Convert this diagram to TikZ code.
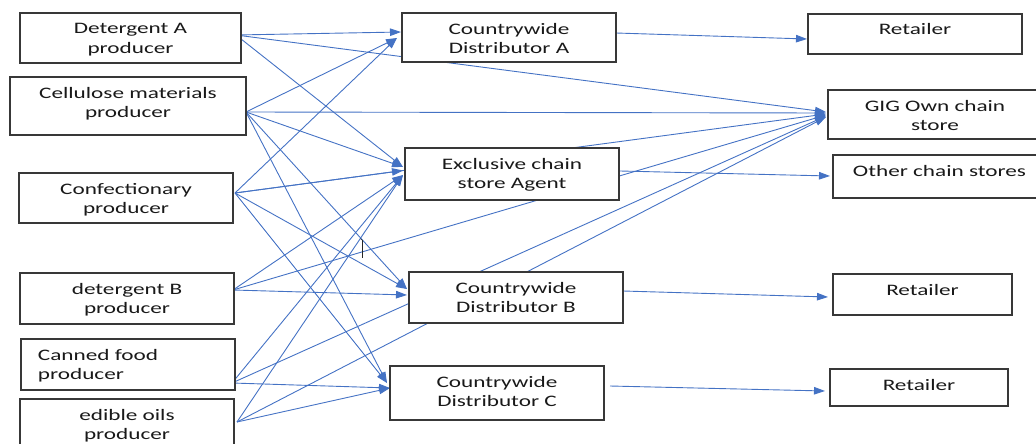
\documentclass[tikz,border=0pt]{standalone}
\usepackage{fontspec}
\setmainfont{Carlito}[FakeStretch=1.45]
\usetikzlibrary{arrows.meta}
\definecolor{lnblue}{HTML}{4472C4}
\pgfdeclarelayer{bg}
\pgfsetlayers{bg,main}
\tikzset{
  box/.style={draw=black!78, line width=1.1pt, fill=white, inner sep=0pt, outer sep=0pt,
    anchor=north west, font=\fontsize{16}{19.5}\selectfont, text=black!90},
  conn/.style={draw=lnblue, line width=0.9pt, -{Triangle[length=11pt,width=7.5pt]}}
}
\newcommand{\bxc}[3]{\parbox[b][#2pt][t]{#1pt}{\centering\rule{0pt}{21pt}#3}}
\newcommand{\bxl}[3]{\parbox[b][#2pt][t]{#1pt}{\raggedright\rule{0pt}{21pt}\hspace*{17pt}#3}}
\begin{document}
\begin{tikzpicture}[x=1pt,y=-1pt]
\useasboundingbox (0,0) rectangle (1036,444);
\clip (0,0) rectangle (1036,444);
% producers
\node[box] (detA) at (20,13)  {\bxc{221}{50}{Detergent A\\producer}};
\node[box] (cell) at (10,77)  {\bxc{236}{58}{Cellulose materials\\producer}};
\node[box] (conf) at (19,173) {\bxc{214}{50}{Confectionary\\producer}};
\node[box] (detB) at (20,273) {\bxc{214}{51}{detergent B\\producer}};
\node[box] (can)  at (21,339) {\bxl{214}{51}{Canned food\\\hspace*{17pt}producer}};
\node[box] (edi)  at (20,399) {\bxc{214}{52}{edible oils\\producer}};
% middle
\node[box] (distA) at (402,13)  {\bxc{214}{49}{Countrywide\\Distributor A}};
\node[box] (agent) at (405,148) {\bxc{214}{52}{Exclusive chain\\store Agent}};
\node[box] (distB) at (409,272) {\bxc{214}{51}{Countrywide\\Distributor B}};
\node[box] (distC) at (390,366) {\bxc{214}{54}{Countrywide\\Distributor C}};
% right
\node[box] (ret1)  at (808,14)  {\bxc{214}{40}{Retailer}};
\node[box] (gig)   at (828,90)  {\bxc{214}{49}{GIG Own chain\\store}};
\node[box] (other) at (833,155) {\bxc{213}{43}{Other chain stores}};
\node[box] (ret2)  at (833,274) {\bxc{179}{41}{Retailer}};
\node[box] (ret3)  at (830,369) {\bxc{178}{37}{Retailer}};
% text cursor mark
\draw[black!85, line width=0.8pt] (362,240) -- (362,258);
\draw[black!85, line width=0.6pt] (360.5,238.5) -- (362,240);
\begin{pgfonlayer}{bg}
% Detergent A
\draw[conn] ([shift={(-5,-3)}]detA.east) -- ([shift={(-1,-5.5)}]distA.west);
\draw[conn] ([shift={(-5,-3)}]detA.east) -- ([shift={(-2,-2.5)}]gig.west);
\draw[conn] ([shift={(-5,-3)}]detA.east) -- ([shift={(-2,-7)}]agent.west);
% Cellulose
\draw[conn] ([shift={(0,6)}]cell.east) -- ([shift={(-5,0.5)}]distA.west);
\draw[conn] ([shift={(0,6)}]cell.east) -- ([shift={(-2,-1.5)}]gig.west);
\draw[conn] ([shift={(0,6)}]cell.east) -- ([shift={(-2,-7)}]agent.west);
\draw[conn] ([shift={(0,6)}]cell.east) -- ([shift={(-2,-8.5)}]distB.west);
\draw[conn] ([shift={(0,6)}]cell.east) -- ([shift={(-3,-10)}]distC.west);
% Confectionary
\draw[conn] ([shift={(2,-5)}]conf.east) -- ([shift={(-5,0.5)}]distA.west);
\draw[conn] ([shift={(2,-5)}]conf.east) -- ([shift={(-2,-3.5)}]agent.west);
\draw[conn] ([shift={(2,-5)}]conf.east) -- ([shift={(-2,-0.5)}]gig.west);
\draw[conn] ([shift={(2,-5)}]conf.east) -- ([shift={(-2,-8.5)}]distB.west);
\draw[conn] ([shift={(2,-5)}]conf.east) -- ([shift={(-3,-10)}]distC.west);
% detergent B
\draw[conn] ([shift={(-1,-8.5)}]detB.east) -- ([shift={(-2,1)}]agent.west);
\draw[conn] ([shift={(-1,-8.5)}]detB.east) -- ([shift={(-2,0.5)}]gig.west);
\draw[conn] ([shift={(-1,-8.5)}]detB.east) -- ([shift={(-2,-2.5)}]distB.west);
% Canned food
\draw[conn] ([shift={(-3,18.5)}]can.east) -- ([shift={(-2,1)}]agent.west);
\draw[conn] ([shift={(-3,18.5)}]can.east) -- ([shift={(-2,1.5)}]gig.west);
\draw[conn] ([shift={(-3,18.5)}]can.east) -- ([shift={(0,-5)}]distC.west);
% edible oils
\draw[conn] ([shift={(3,-3)}]edi.east) -- ([shift={(-2,1)}]agent.west);
\draw[conn] ([shift={(3,-3)}]edi.east) -- ([shift={(-2,2.5)}]gig.west);
\draw[conn] ([shift={(3,-3)}]edi.east) -- ([shift={(0,-5)}]distC.west);
% middle to right
\draw[conn] ([shift={(0,-4.5)}]distA.east) -- ([shift={(-1,5)}]ret1.west);
\draw[conn] ([shift={(1,-3)}]agent.east) -- ([shift={(-3,-0.5)}]other.west);
\draw[conn] ([shift={(0,-6.5)}]distB.east) -- ([shift={(-5,2.5)}]ret2.west);
\draw[conn] ([shift={(6,-7)}]distC.east) -- ([shift={(-5,3.5)}]ret3.west);
\end{pgfonlayer}
\end{tikzpicture}
\end{document}
